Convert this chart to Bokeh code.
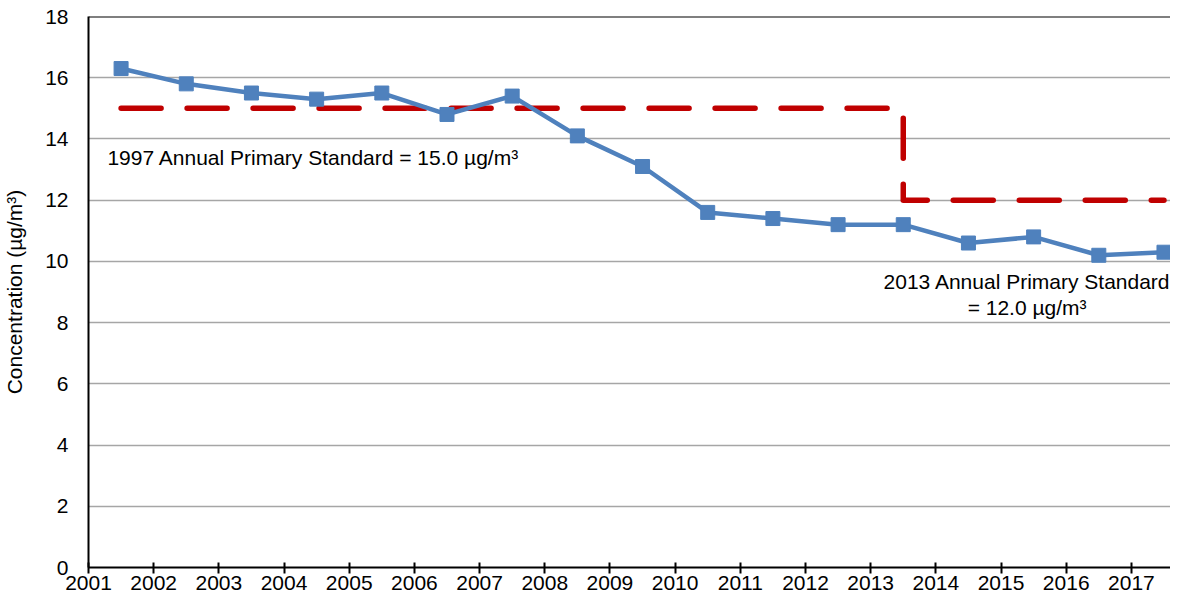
from bokeh.plotting import figure
from bokeh.models import FixedTicker, Span, Range1d, ColumnDataSource
from bokeh.core.properties import value
from bokeh.embed import file_html
from bokeh.resources import INLINE

# ---- data ----
years = [2001, 2002, 2003, 2004, 2005, 2006, 2007, 2008, 2009,
         2010, 2011, 2012, 2013, 2014, 2015, 2016, 2017]
concentration = [16.3, 15.8, 15.5, 15.3, 15.5, 14.8, 15.4, 14.1, 13.1,
                 11.6, 11.4, 11.2, 11.2, 10.6, 10.8, 10.2, 10.3]
std_1997 = 15.0
std_2013 = 12.0
std_change_year = 2013
tick_labels = [str(y) for y in years]
label_1997 = "1997 Annual Primary Standard = 15.0 µg/m³"
label_2013_a = "2013 Annual Primary Standard"
label_2013_b = "= 12.0 µg/m³"

FONT = "Liberation Sans"

# category positions (centre of each year slot)
xpos = [i + 0.5 for i in range(len(years))]
i_change = years.index(std_change_year)

p = figure(width=1170, height=592, output_backend="svg", toolbar_location=None,
           x_range=Range1d(0, 16.6), y_range=Range1d(0, 18),
           min_border_left=83, min_border_top=16, min_border_bottom=20, min_border_right=0)
p.outline_line_color = None
p.background_fill_color = "white"
p.border_fill_color = "white"

# grid
p.xgrid.grid_line_color = None
p.ygrid.grid_line_color = "#a6a6a6"
p.ygrid.grid_line_width = 1.5
p.yaxis.ticker = FixedTicker(ticks=list(range(0, 19, 2)))
p.xaxis.ticker = FixedTicker(ticks=list(range(len(years))))
p.xaxis.major_label_overrides = {i: tick_labels[i] for i in range(len(years))}

for ax in (p.xaxis, p.yaxis):
    ax.axis_line_color = "black"
    ax.axis_line_width = 2
    ax.major_label_text_font = FONT
    ax.major_label_text_font_size = "21px"
    ax.major_label_text_color = "black"
    ax.minor_tick_line_color = None

p.xaxis.major_tick_line_color = "black"
p.xaxis.major_tick_line_width = 2
p.xaxis.major_tick_in = 5
p.xaxis.major_tick_out = 6
p.xaxis.major_label_standoff = 2

p.yaxis.major_tick_line_color = None
p.yaxis.major_tick_in = 0
p.yaxis.major_tick_out = 0
p.yaxis.major_label_standoff = 20
p.yaxis.axis_label = "Concentration (µg/m³)"
p.yaxis.axis_label_text_font = FONT
p.yaxis.axis_label_text_font_size = "21px"
p.yaxis.axis_label_text_font_style = "normal"
p.yaxis.axis_label_text_color = "black"
p.yaxis.axis_label_standoff = 16

# top border
p.add_layout(Span(location=18, dimension="width", line_color="black", line_width=2))

# standard step line
sx = [xpos[0], xpos[i_change], xpos[i_change], xpos[-1]]
sy = [std_1997, std_1997, std_2013, std_2013]
p.line(sx, sy, line_color="#c00000", line_width=5.5, line_dash="40 26",
       line_cap="round", line_join="round")

# concentration series
src = ColumnDataSource(dict(x=xpos, y=concentration))
p.line("x", "y", source=src, line_color="#4f81bd", line_width=4.5, line_join="round")
p.scatter("x", "y", source=src, marker="square", size=14,
          fill_color="#4f81bd", line_color="#4f81bd")

# annotations
p.text(x=[0.29], y=[13.38], text=[label_1997], text_font=value(FONT),
       text_font_size="21px", text_align="left", text_baseline="middle", text_color="black")
p.text(x=[xpos[14] - 0.1], y=[9.34], text=[label_2013_a], text_font=value(FONT),
       text_font_size="21px", text_align="center", text_baseline="middle", text_color="black")
p.text(x=[xpos[14] - 0.1], y=[8.5], text=[label_2013_b], text_font=value(FONT),
       text_font_size="21px", text_align="center", text_baseline="middle", text_color="black")

open("out.html", "w").write(file_html(p, INLINE))
